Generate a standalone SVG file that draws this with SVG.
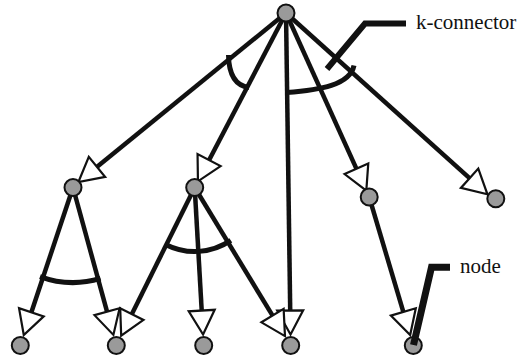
<svg xmlns="http://www.w3.org/2000/svg" width="524" height="359" viewBox="0 0 524 359">
<style>
.edge{stroke:#111;stroke-width:4.5;fill:none;marker-end:url(#arrow)}
.kc{stroke:#111;stroke-width:5;fill:none;stroke-linecap:butt}
.node{fill:#9a9a9a;stroke:#111;stroke-width:2}
.callout{stroke:#111;fill:none;stroke-linejoin:miter;stroke-linecap:butt}
</style>
<defs>
<marker id="arrow" markerUnits="userSpaceOnUse" viewBox="-3 -3 32 32" markerWidth="32" markerHeight="32" refX="1" refY="13" orient="auto" overflow="visible">
<path d="M0,0 L24,13 L0,26 Z" fill="#fff" stroke="#111" stroke-width="2.2" stroke-linejoin="miter"/>
</marker>
</defs>
<rect width="524" height="359" fill="#fff"/>
<g id="connectors">
<line class="edge" x1="286" y1="13" x2="96.22" y2="167.48"/>
<line class="edge" x1="286" y1="13" x2="208.61" y2="160.92"/>
<line class="edge" x1="286" y1="13" x2="290.22" y2="311.5"/>
<line class="edge" x1="286" y1="13" x2="356.84" y2="169.66"/>
<line class="edge" x1="286" y1="13" x2="470.34" y2="178.92"/>
<line class="edge" x1="73" y1="187.5" x2="31.05" y2="313.24"/>
<line class="edge" x1="73" y1="187.5" x2="107.31" y2="312.71"/>
<line class="edge" x1="194.7" y1="187.5" x2="131.41" y2="315.04"/>
<line class="edge" x1="194.7" y1="187.5" x2="201.77" y2="311.55"/>
<line class="edge" x1="194.7" y1="187.5" x2="273.04" y2="316.44"/>
<line class="edge" x1="369.2" y1="197" x2="403.62" y2="312.9"/>
</g>
<g id="k-connectors">
<path class="kc" d="M228.5,55 Q229,85 249,87.5"/>
<path class="kc" d="M286.5,92.5 C320,90 350,85 354,65.5"/>
<path class="kc" d="M40,276.6 A95,95 0 0 0 100.5,278.4"/>
<path class="kc" d="M166,244.7 A64,64 0 0 0 230.8,240.4"/>
</g>
<g id="root"><circle class="node" cx="286" cy="13" r="8.5"/></g>
<g id="n1"><circle class="node" cx="73" cy="187.5" r="8.5"/></g>
<g id="n2"><circle class="node" cx="194.7" cy="187.5" r="8.5"/></g>
<g id="n3"><circle class="node" cx="369.2" cy="197" r="8.5"/></g>
<g id="n4"><circle class="node" cx="495.8" cy="198.8" r="8.5"/></g>
<g id="b1"><circle class="node" cx="20.3" cy="345.5" r="8.5"/></g>
<g id="b2"><circle class="node" cx="116.3" cy="345.5" r="8.5"/></g>
<g id="b3"><circle class="node" cx="203.7" cy="345.5" r="8.5"/></g>
<g id="b4"><circle class="node" cx="290.7" cy="345.5" r="8.5"/></g>
<g id="b5"><circle class="node" cx="413.3" cy="345.5" r="8.5"/></g>
<g id="label-k-connector">
<polyline class="callout" stroke-width="6" points="327,69 365,23.5 406,23.5"/>
<text x="416" y="29.3" font-family="'Liberation Serif', 'Times New Roman', 'DejaVu Serif', serif" font-size="21" fill="#111">k-connector</text>
</g>
<g id="label-node">
<polyline class="callout" stroke-width="7" points="413.5,345 431.5,267.3 450,267.3"/>
<text x="460" y="273.3" font-family="'Liberation Serif', 'Times New Roman', 'DejaVu Serif', serif" font-size="21" fill="#111">node</text>
</g>
</svg>
